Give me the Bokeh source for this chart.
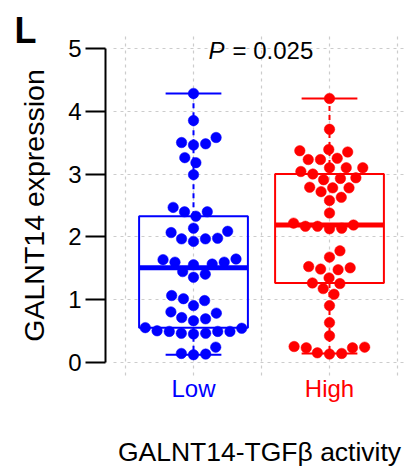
import numpy as np
from bokeh.plotting import figure
from bokeh.models import Range1d, FixedTicker, Label, ColumnDataSource, Grid
from bokeh.embed import file_html
from bokeh.resources import INLINE

# ---------------- data ----------------
categories = ["Low", "High"]
cat_colors = ["#0000FF", "#FF0000"]
y_ticks = [0, 1, 2, 3, 4, 5]
x_grid = [0.5, 1, 1.5, 2, 2.5]

# box statistics
whisker_low = [0.13, 0.15]
q1 = [0.56, 1.27]
median = [1.51, 2.19]
q3 = [2.33, 3.00]
whisker_high = [4.28, 4.20]

low_values = [4.28, 3.85, 3.50, 3.46, 3.48, 3.58, 3.26, 3.18, 2.99, 2.47, 2.40, 2.40,
              2.33, 2.14, 1.98, 1.97, 1.93, 1.97, 2.07, 2.09, 1.65, 1.60, 1.56, 1.57,
              1.60, 1.64, 1.45, 1.36, 1.41, 1.07, 1.02, 0.91, 0.99, 0.79, 0.70, 0.67,
              0.72, 0.81, 0.55, 0.50, 0.50, 0.47, 0.46, 0.47, 0.50, 0.51, 0.56, 0.25,
              0.14, 0.13, 0.15]
high_values = [4.20, 3.71, 3.37, 3.35, 3.39, 3.23, 3.25, 3.23, 3.10, 3.04, 3.00, 3.10,
               3.10, 2.94, 2.93, 2.91, 2.79, 2.78, 2.63, 2.58, 2.72, 2.78, 2.38, 2.19,
               2.17, 2.13, 2.14, 2.17, 2.22, 1.78, 1.68, 1.53, 1.51, 1.48, 1.49, 1.35,
               1.26, 1.18, 1.09, 1.27, 0.91, 0.64, 0.43, 0.26, 0.24, 0.16, 0.14, 0.15,
               0.24, 0.25]
group_values = [low_values, high_values]

p_text = "= 0.025"
x_title = "GALNT14-TGF\u03b2 activity"
y_title = "GALNT14 expression"
panel = "L"

# ---------------- layout ----------------
FONT = "Liberation Sans"
W, H = 404, 471
SX = 136.0          # px per x unit
SY = 62.96          # px per y unit
X_AT_PX0 = 1 - 193 / SX
Y_AT_PX0 = 362.4 / SY
x_start, x_end = X_AT_PX0, X_AT_PX0 + W / SX
y_end, y_start = Y_AT_PX0, Y_AT_PX0 - H / SY


def dx(px):  # page pixel -> data x
    return X_AT_PX0 + px / SX


def dy(py):  # page pixel -> data y
    return Y_AT_PX0 - py / SY


p = figure(width=W, height=H, x_range=Range1d(x_start, x_end),
           y_range=Range1d(y_start, y_end),
           output_backend="svg", toolbar_location=None,
           min_border_left=0, min_border_right=0, min_border_top=0, min_border_bottom=0)
p.outline_line_color = None
p.xaxis.visible = False

# plotting region (R's usr box)
region_x = (dx(113), x_end)
region_y = (-0.2, 5.2)

yax = p.yaxis[0]
yax.fixed_location = dx(105)
yax.ticker = FixedTicker(ticks=y_ticks)
yax.bounds = (0, 5)
yax.axis_line_width = 2
yax.major_tick_line_width = 2
yax.major_tick_out = 20
yax.major_tick_in = 0
yax.minor_tick_line_color = None
yax.major_label_text_font = FONT
yax.major_label_text_font_size = "24px"
yax.major_label_text_color = "black"
yax.major_label_standoff = 4
yax.axis_label = y_title
yax.axis_label_text_font = FONT
yax.axis_label_text_font_size = "28.5px"
yax.axis_label_text_font_style = "normal"
yax.axis_label_text_color = "black"
yax.axis_label_standoff = 15

GRID_COLOR, GRID_DASH, GRID_W = "#cccccc", "3 4", 1.2
if "cross_bounds" in Grid.properties():
    p.ygrid.ticker = FixedTicker(ticks=y_ticks)
    p.xgrid.ticker = FixedTicker(ticks=x_grid)
    p.xgrid.cross_bounds = region_y
    p.ygrid.cross_bounds = region_x
    p.xgrid.bounds = (min(x_grid), max(x_grid))
    for g in (p.xgrid[0], p.ygrid[0]):
        g.grid_line_color = GRID_COLOR
        g.grid_line_dash = GRID_DASH
        g.grid_line_width = GRID_W
else:
    p.xgrid.visible = False
    p.ygrid.visible = False
    p.segment(x0=x_grid, x1=x_grid, y0=region_y[0], y1=region_y[1], line_color=GRID_COLOR,
              line_dash=GRID_DASH, line_width=GRID_W)
    p.segment(x0=region_x[0], x1=region_x[1], y0=y_ticks, y1=y_ticks, line_color=GRID_COLOR,
              line_dash=GRID_DASH, line_width=GRID_W)


def swarm(vals, d):
    """beeswarm 'swarm' layout (ascending priority), in pixel space."""
    vals = np.asarray(vals, dtype=float)
    order = np.argsort(vals, kind="stable")
    placed = []
    offs = np.zeros(len(vals))
    for i in order:
        yp = vals[i] * SY
        cands = [0.0]
        for (xj, yj) in placed:
            ddy = abs(yp - yj)
            if ddy < d:
                ddx = np.sqrt(d * d - ddy * ddy)
                cands += [xj + ddx, xj - ddx]
        ok = [c for c in cands
              if all((c - xj) ** 2 + (yp - yj) ** 2 >= d * d - 1e-6 for xj, yj in placed)]
        best = min(ok, key=lambda c: (round(abs(c), 6), -c))
        placed.append((best, yp))
        offs[i] = best / SX
    return offs


xs = np.arange(1, len(categories) + 1)
box_half = 0.4
cap_half = 0.205

# boxes
p.quad(left=xs - box_half, right=xs + box_half, bottom=q1, top=q3,
       fill_color=None, line_color=cat_colors, line_width=2)
# whiskers (dashed)
p.segment(x0=xs, x1=xs, y0=q3, y1=whisker_high, line_color=cat_colors, line_width=2,
          line_dash="5 4")
p.segment(x0=xs, x1=xs, y0=q1, y1=whisker_low, line_color=cat_colors, line_width=2,
          line_dash="5 4")
# caps
p.segment(x0=xs - cap_half, x1=xs + cap_half, y0=whisker_high, y1=whisker_high,
          line_color=cat_colors, line_width=2)
p.segment(x0=xs - cap_half, x1=xs + cap_half, y0=whisker_low, y1=whisker_low,
          line_color=cat_colors, line_width=2)

# points
for k, vals in enumerate(group_values):
    offs = swarm(vals, 12.2)
    src = ColumnDataSource(dict(x=xs[k] + offs, y=vals))
    p.scatter("x", "y", source=src, size=10.5, fill_color=cat_colors[k],
              line_color=cat_colors[k], line_width=0.5)

# medians
p.segment(x0=xs - box_half, x1=xs + box_half, y0=median, y1=median,
          line_color=cat_colors, line_width=5)

# texts (label anchor sits ~0.37 em above the rendered baseline)
for k, c in enumerate(categories):
    p.add_layout(Label(x=xs[k], y=dy(388), text=c,
                       text_align="center", text_baseline="alphabetic",
                       text_font=FONT, text_font_size="24px", text_color=cat_colors[k]))

p.add_layout(Label(x=dx(259), y=dy(451), text=x_title,
                   text_align="center", text_baseline="alphabetic",
                   text_font=FONT, text_font_size="26.5px", text_color="black"))

p.add_layout(Label(x=dx(208), y=dy(50), text="P",
                   text_align="left", text_baseline="alphabetic", text_font_style="italic",
                   text_font=FONT, text_font_size="24px", text_color="black"))
p.add_layout(Label(x=dx(232), y=dy(50), text=p_text,
                   text_align="left", text_baseline="alphabetic",
                   text_font=FONT, text_font_size="24px", text_color="black"))

p.add_layout(Label(x=dx(14), y=dy(30), text=panel,
                   text_align="left", text_baseline="alphabetic", text_font_style="bold",
                   text_font=FONT, text_font_size="36px", text_color="black"))

open("out.html", "w").write(file_html(p, INLINE))
